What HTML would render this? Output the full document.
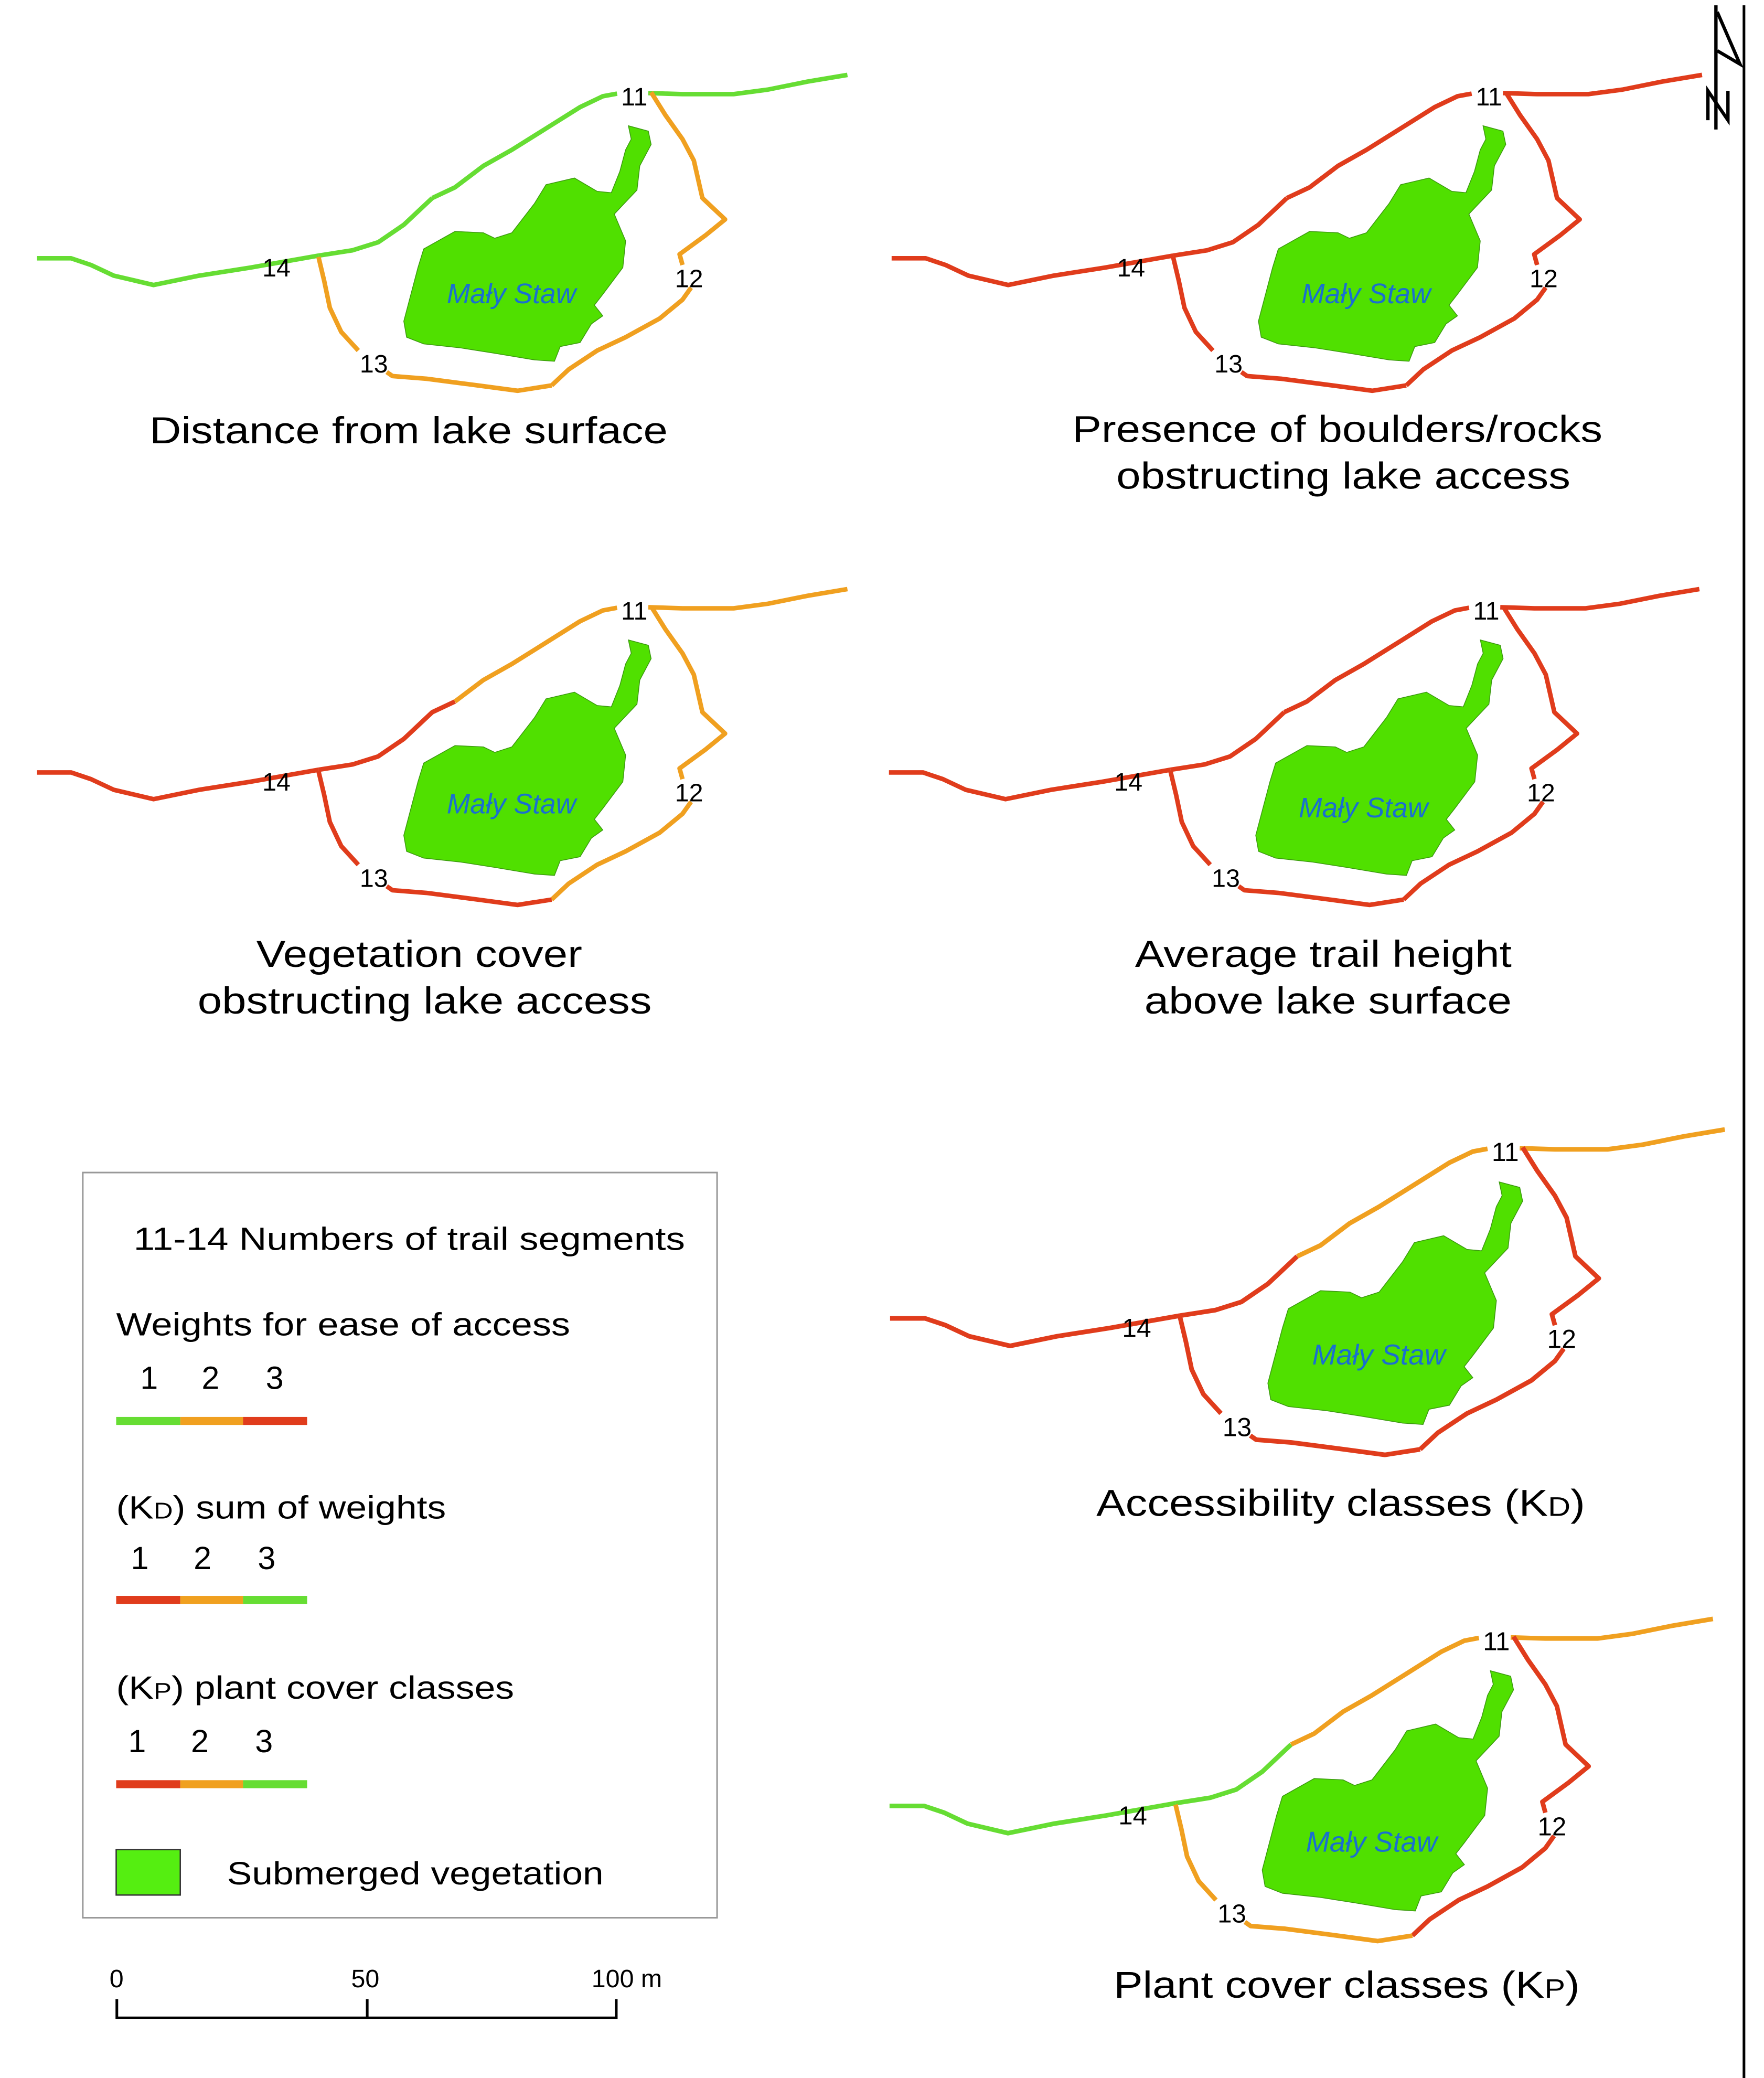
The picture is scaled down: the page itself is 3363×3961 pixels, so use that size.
<!DOCTYPE html>
<html><head><meta charset="utf-8"><style>
html,body{margin:0;padding:0;background:#fff}
svg{display:block}
text{font-family:"Liberation Sans",sans-serif}
</style></head><body>
<svg id="fig" width="3363" height="3961" viewBox="0 0 1321 1556" preserveAspectRatio="none" xmlns="http://www.w3.org/2000/svg">
<rect width="1321" height="1556" fill="#fff"/>
<g id="maps"></g>
<g font-size="28" fill="#000" lengthAdjust="spacingAndGlyphs">
<text x="112" y="332" textLength="388" lengthAdjust="spacingAndGlyphs">Distance from lake surface</text>
<text x="803" y="331" textLength="397" lengthAdjust="spacingAndGlyphs">Presence of boulders/rocks</text>
<text x="836" y="366" textLength="340" lengthAdjust="spacingAndGlyphs">obstructing lake access</text>
<text x="192" y="724" textLength="244" lengthAdjust="spacingAndGlyphs">Vegetation cover</text>
<text x="148" y="759" textLength="340" lengthAdjust="spacingAndGlyphs">obstructing lake access</text>
<text x="850" y="724" textLength="282" lengthAdjust="spacingAndGlyphs">Average trail height</text>
<text x="857" y="759" textLength="275" lengthAdjust="spacingAndGlyphs">above lake surface</text>
<text x="821" y="1135" textLength="366" lengthAdjust="spacingAndGlyphs">Accessibility classes (K<tspan font-size="20">D</tspan>)</text>
<text x="834" y="1496" textLength="349" lengthAdjust="spacingAndGlyphs">Plant cover classes (K<tspan font-size="20">P</tspan>)</text>
</g>
<g font-size="24" fill="#000">
<rect x="62" y="878" width="475" height="558" fill="none" stroke="#999" stroke-width="1.2"/>
<text x="100" y="936" textLength="413" lengthAdjust="spacingAndGlyphs">11-14  Numbers of trail segments</text>
<text x="87" y="1000" textLength="340" lengthAdjust="spacingAndGlyphs">Weights for ease of access</text>
<text x="105" y="1040">1</text><text x="151" y="1040">2</text><text x="199" y="1040">3</text>
<rect x="87" y="1061" width="48" height="6" fill="#66dd33"/><rect x="135" y="1061" width="47" height="6" fill="#f0a020"/><rect x="182" y="1061" width="48" height="6" fill="#e03c1c"/>
<text x="87" y="1137" textLength="247" lengthAdjust="spacingAndGlyphs">(K<tspan font-size="17">D</tspan>) sum of weights</text>
<text x="98" y="1175">1</text><text x="145" y="1175">2</text><text x="193" y="1175">3</text>
<rect x="87" y="1195" width="48" height="6" fill="#e03c1c"/><rect x="135" y="1195" width="47" height="6" fill="#f0a020"/><rect x="182" y="1195" width="48" height="6" fill="#66dd33"/>
<text x="87" y="1272" textLength="298" lengthAdjust="spacingAndGlyphs">(K<tspan font-size="17">P</tspan>) plant cover classes</text>
<text x="96" y="1312">1</text><text x="143" y="1312">2</text><text x="191" y="1312">3</text>
<rect x="87" y="1333" width="48" height="6" fill="#e03c1c"/><rect x="135" y="1333" width="47" height="6" fill="#f0a020"/><rect x="182" y="1333" width="48" height="6" fill="#66dd33"/>
<rect x="87" y="1385" width="48" height="34" fill="#55ee11" stroke="#333" stroke-width="1"/>
<text x="170" y="1411" textLength="282" lengthAdjust="spacingAndGlyphs">Submerged vegetation</text>
</g>
<g font-size="19" fill="#000">
<text x="82" y="1488">0</text><text x="263" y="1488">50</text><text x="443" y="1488">100 m</text>
<path d="M87.5 1497V1511H461.5V1497M275 1497V1511" fill="none" stroke="#000" stroke-width="2"/>
</g>
<g fill="none" stroke="#000" stroke-width="2.5">
<path d="M1285 4V97"/>
<path d="M1286 9L1303 48L1286 38"/>
<path d="M1279 90V68L1294 90V68"/>
</g>
<line x1="1306" y1="4" x2="1306" y2="1556" stroke="#000" stroke-width="2"/>
</svg>
<script>
const G="#66dd33",O="#f0a020",R="#e03c1c";
const lake=[[1105,470],[1140,490],[1145,540],[1125,620],[1120,710],[1080,800],[1100,900],[1095,1000],[1060,1100],[1045,1140],[1060,1180],[1040,1210],[1020,1280],[985,1295],[975,1350],[940,1345],[870,1320],[810,1300],[745,1285],[715,1260],[710,1200],[735,1000],[745,930],[800,865],[850,870],[870,890],[900,870],[940,760],[960,690],[1010,665],[1050,715],[1075,720],[1090,640],[1100,560],[1110,520]];
const westA=[[65,965],[125,965],[160,990],[200,1030],[270,1065],[350,1030],[440,1000],[560,955]];
const midB=[[560,955],[620,935],[665,905],[710,840],[760,740],[800,700],[850,620],[900,560],[960,480],[1020,400],[1060,360],[1085,350]];
const eastC=[[1140,348],[1200,352],[1290,352],[1350,335],[1420,305],[1490,280]];
const s1112=[[1145,345],[1170,430],[1200,520],[1220,600],[1235,740],[1275,820],[1240,880],[1195,950],[1200,990]];
const s1213=[[1215,1075],[1200,1120],[1160,1190],[1100,1260],[1050,1310],[1000,1380],[970,1440],[910,1460],[840,1440],[750,1415],[690,1405],[680,1390]];
const s1314=[[630,1310],[600,1240],[580,1150],[570,1050],[560,960]];
const maps=[
 {t:[0,0,1,1],c:[G,G,G,4,G,O,O,O,6,O],ly:0},
 {t:[640,0,1,1],c:[R,R,R,4,R,R,R,R,6,R],ly:0},
 {t:[0,385,1,1],c:[R,R,O,5,O,O,O,R,6,R],ly:-3},
 {t:[638,385,1,1],c:[R,R,R,4,R,R,R,R,6,R],ly:0},
 {t:[638,788,1.03,1.03],c:[R,R,O,4,O,R,R,R,6,R],ly:0},
 {t:[638,1155,1.016,1.02],c:[G,G,O,4,O,R,R,O,6,O],ly:0}
];
const labels=[["11",475,72],["12",516,208],["13",280,272],["14",207,200]];
const NS="http://www.w3.org/2000/svg";
const root=document.getElementById("maps");
const P=a=>a.map(p=>(p[0]/2.348).toFixed(1)+","+(p[1]/4.99).toFixed(1)).join(" ");
function line(g,pts,col,name){
 const l=document.createElementNS(NS,"polyline");
 l.setAttribute("points",P(pts));l.setAttribute("fill","none");l.setAttribute("stroke",col);
 l.setAttribute("stroke-width","3.4");l.setAttribute("stroke-linejoin","round");
 
 
 g.appendChild(l);
}
maps.forEach((m,i)=>{
 const g=document.createElementNS(NS,"g");
 g.setAttribute("transform",`translate(${m.t[0]},${m.t[1]}) scale(${m.t[2]},${m.t[3]})`);
 
 
 const lk=document.createElementNS(NS,"polygon");
 lk.setAttribute("points",P(lake));lk.setAttribute("fill","#50e000");lk.setAttribute("stroke","#3c9a10");lk.setAttribute("stroke-width","0.6");
 
 
 g.appendChild(lk);
 const c=m.c;
 line(g,westA,c[0],'trail-west');
 line(g,midB.slice(0,c[3]+1),c[1],'trail-14-11-a');
 line(g,midB.slice(c[3]),c[2],'trail-14-11-b');
 line(g,eastC,c[4],'trail-east');
 line(g,s1112,c[5],'trail-segment-11-12');
 line(g,s1213.slice(0,c[8]+1),c[6],'trail-segment-12-13-a');
 line(g,s1213.slice(c[8]),c[7],'trail-segment-12-13-b');
 line(g,s1314,c[9],'trail-segment-13-14');
 const lt=document.createElementNS(NS,"text");
 lt.setAttribute("x",383);lt.setAttribute("y",227+m.ly);lt.setAttribute("text-anchor","middle");
 lt.setAttribute("font-size","21");lt.setAttribute("font-style","italic");lt.setAttribute("fill","#1a6fd0");
 lt.textContent="Mały Staw";
 
 
 g.appendChild(lt);
 labels.forEach(L=>{
  const t=document.createElementNS(NS,"text");
  t.setAttribute("x",L[1]);t.setAttribute("y",L[2]+7);t.setAttribute("text-anchor","middle");
  t.setAttribute("font-size","19");t.setAttribute("fill","#000");
  t.textContent=L[0];
  
  
  g.appendChild(t);
 });
 root.appendChild(g);
});
</script>
</body></html>
